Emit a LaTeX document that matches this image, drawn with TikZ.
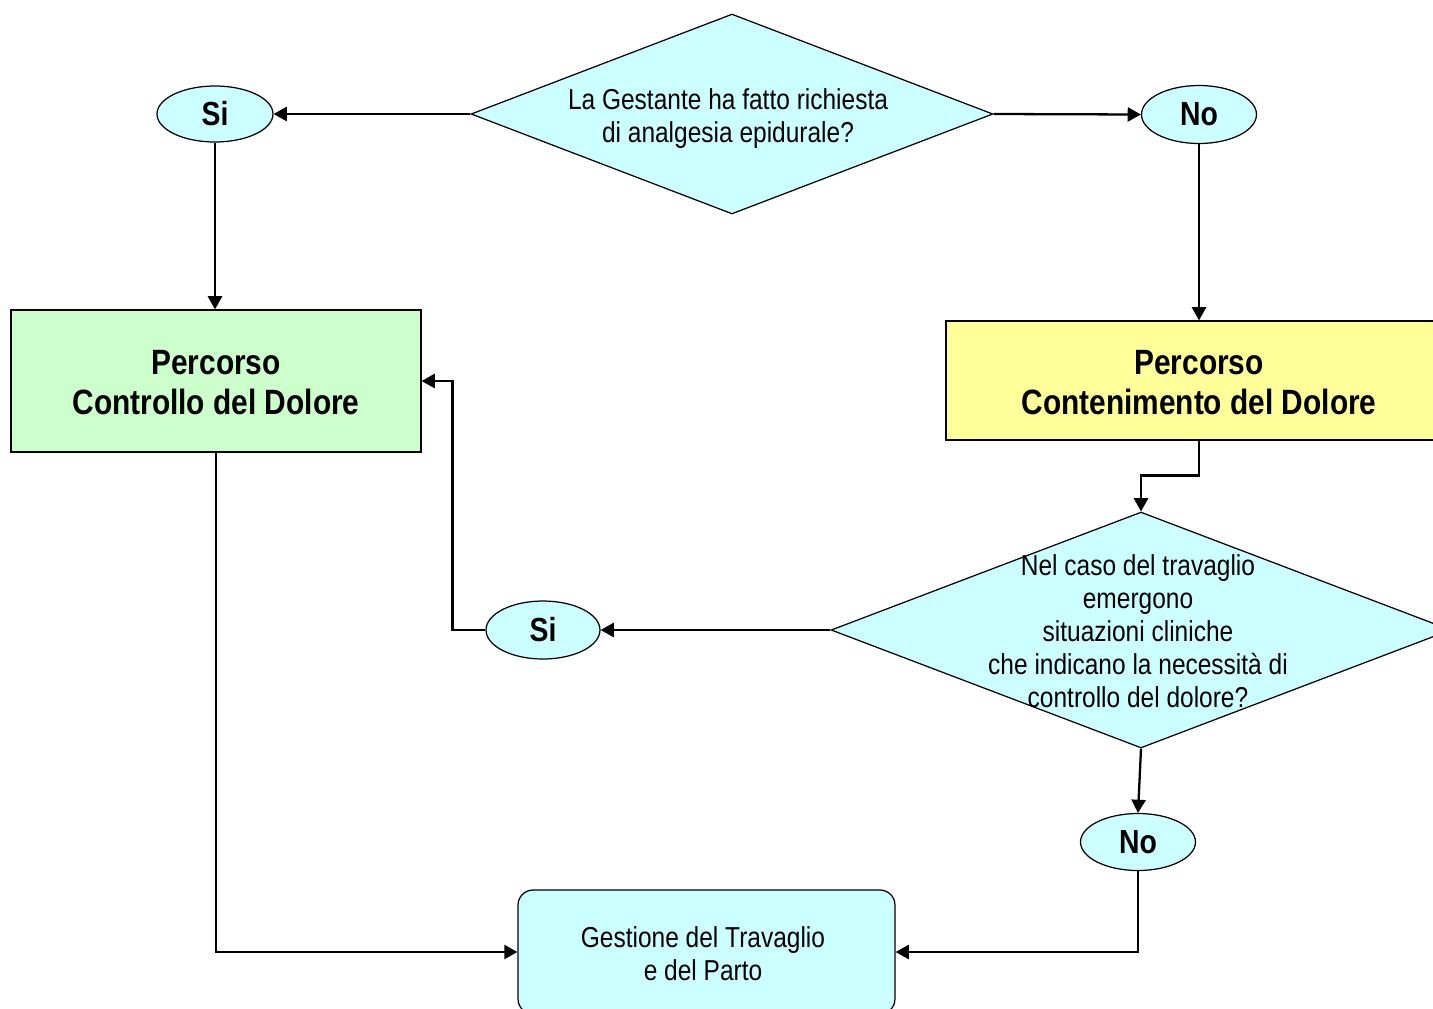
\documentclass[tikz,border=0pt]{standalone}
\usepackage{fontspec}
\usetikzlibrary{shapes.geometric,arrows.meta,calc}
\newfontfamily\nar[FakeStretch=0.85]{Liberation Sans}
\definecolor{cyanfill}{HTML}{CCFFFF}
\definecolor{greenfill}{HTML}{CCFFCC}
\definecolor{yellowfill}{HTML}{FFFF99}
\begin{document}
\begin{tikzpicture}[x=0.02cm,y=-0.02cm,
  decision/.style={diamond,draw=black,line width=0.7pt,fill=cyanfill,inner sep=0pt},
  answer/.style={ellipse,draw=black,line width=0.7pt,fill=cyanfill,inner sep=0pt,
    font=\nar\bfseries\fontsize{19}{22}\selectfont},
  pathbox/.style={rectangle,draw=black,line width=0.7pt,inner sep=0pt,align=center,
    font=\nar\bfseries\fontsize{20}{22.8}\selectfont},
  pathtext/.style={align=center,inner sep=0pt,
    font=\nar\bfseries\fontsize{20}{22.8}\selectfont},
  qtext/.style={align=center,inner sep=0pt,font=\nar\fontsize{16.4}{18.8}\selectfont},
  conn/.style={line width=1.3pt,-{Triangle[length=7.5pt,width=8pt]}},
  link/.style={line width=1.3pt}]
\path[use as bounding box] (0,0) rectangle (1433,1008);
\clip (0,0) rectangle (1433,1008);
\fill[white] (0,0) rectangle (1433,1008);

\node[decision,minimum width=10.44cm,minimum height=4cm] (d1) at (732,114) {};
\node[qtext] (t1) at (728,119) {La Gestante ha fatto richiesta\\di analgesia epidurale?};

\node[answer,minimum width=2.32cm,minimum height=1.12cm] (si1) at (215,114) {Si};
\node[answer,minimum width=2.3cm,minimum height=1.16cm] (no1) at (1199,114.5) {No};

\node[pathbox,fill=greenfill,minimum width=8.2cm,minimum height=2.84cm] (green) at (216,381) {};
\node[pathtext] (gtext) at (216,383) {Percorso\\Controllo del Dolore};
\node[pathbox,fill=yellowfill,minimum width=10.12cm,minimum height=2.38cm] (yellow) at (1199,380.5) {};
\node[pathtext] (ytext) at (1199,383) {Percorso\\Contenimento del Dolore};

\node[decision,minimum width=12.4cm,minimum height=4.72cm] (d2) at (1141,630) {};
\node[qtext] (t2) at (1138,631) {Nel caso del travaglio\\emergono\\situazioni cliniche\\che indicano la necessit\`a di\\controllo del dolore?};

\node[answer,minimum width=2.28cm,minimum height=1.16cm] (si2) at (543,630) {Si};
\node[answer,minimum width=2.3cm,minimum height=1.14cm] (no2) at (1138,842) {No};

\node[rectangle,rounded corners=0.3cm,draw=black,line width=0.7pt,fill=cyanfill,
  minimum width=7.54cm,minimum height=2.48cm,inner sep=0pt] (gest) at (706.5,952) {};
\node[qtext] (t3) at (703,954) {Gestione del Travaglio\\e del Parto};

\draw[conn] (d1.west) -- (si1.east);
\draw[conn] (d1.east) -- (no1.west);
\draw[conn] (si1.south) -- (si1.south |- green.north);
\draw[conn] (no1.south) -- (no1.south |- yellow.north);
\draw[conn] (yellow.south) -- ++(0,35) -| (d2.north);
\draw[conn] (d2.west) -- (si2.east);
\draw[conn] (si2.west) -- ++(-33,0) |- (green.east);
\draw[conn] (d2.south) -- (no2.north);
\draw[conn] (no2.south) |- (gest.east);
\draw[conn] (green.south) |- (gest.west);
\end{tikzpicture}
\end{document}
